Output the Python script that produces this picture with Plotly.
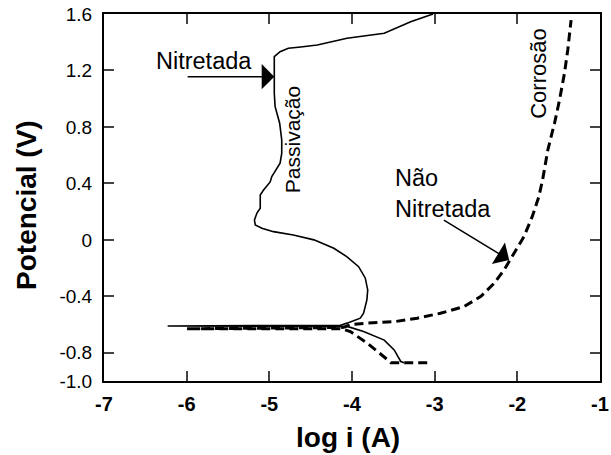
import plotly.graph_objects as go

# Nitretada (solid): cathodic branch -> corrosion spike -> anodic branch
nit_x = [-3.37, -3.41, -3.49, -3.61, -3.86, -4.05, -6.23, -4.14, -4.06, -3.90, -3.86, -3.82,
         -3.81, -3.84, -3.92, -4.06, -4.22, -4.46, -4.71, -4.95, -5.09, -5.17, -5.18, -5.15,
         -5.11, -5.11, -5.07, -4.99, -4.97, -4.87, -4.85, -4.85, -4.875, -4.93, -4.94, -4.94,
         -4.94, -4.87, -4.77, -4.62, -4.42, -4.06, -3.61, -3.29, -3.02]
nit_y = [-0.87, -0.862, -0.78, -0.71, -0.65, -0.615, -0.61, -0.605, -0.59, -0.555, -0.52, -0.425,
         -0.355, -0.27, -0.19, -0.12, -0.06, 0.0, 0.035, 0.058, 0.082, 0.106, 0.14, 0.19,
         0.224, 0.318, 0.353, 0.41, 0.448, 0.543, 0.613, 0.708, 0.826, 0.944, 1.038, 1.227,
         1.298, 1.333, 1.357, 1.366, 1.38, 1.428, 1.463, 1.545, 1.60]

# Nao Nitretada (dashed)
nn_x = [-3.09, -3.53, -3.61, -3.82, -4.02, -4.12, -6.00, -4.10, -4.02, -3.82, -3.49, -3.21,
        -2.93, -2.645, -2.44, -2.28, -2.16, -2.04, -1.92, -1.82, -1.74, -1.695, -1.63, -1.55,
        -1.49, -1.43, -1.39, -1.35]
nn_y = [-0.87, -0.87, -0.83, -0.73, -0.65, -0.63, -0.63, -0.62, -0.60, -0.59, -0.58, -0.555,
        -0.52, -0.473, -0.40, -0.307, -0.213, -0.095, 0.023, 0.164, 0.306, 0.424, 0.64, 0.826,
        0.99, 1.18, 1.345, 1.557]

y_ticks = [-1.0, -0.8, -0.4, 0, 0.4, 0.8, 1.2, 1.6]
y_ticktext = ["-1.0", "-0.8", "-0.4", "0", "0.4", "0.8", "1.2", "1.6"]
x_ticks = [-7, -6, -5, -4, -3, -2, -1]
x_ticktext = ["-7", "-6", "-5", "-4", "-3", "-2", "-1"]

FONT = "Liberation Sans, Arial, Helvetica, sans-serif"

fig = go.Figure()
fig.add_trace(go.Scatter(x=nit_x, y=nit_y, mode="lines",
                         line=dict(color="black", width=1.6), showlegend=False))
fig.add_trace(go.Scatter(x=nn_x, y=nn_y, mode="lines",
                         line=dict(color="black", width=3, dash="9px,5px"), showlegend=False))

ann = []
# text labels
ann.append(dict(x=-5.79, y=1.265, text="Nitretada", showarrow=False,
                font=dict(family=FONT, size=23.5, color="black")))
ann.append(dict(x=-3.51, y=0.33, text="Não<br>Nitretada", showarrow=False, xanchor="left",
                align="left", font=dict(family=FONT, size=23.5, color="black")))
ann.append(dict(x=-4.71, y=0.708, text="Passivação", showarrow=False, textangle=-90,
                font=dict(family=FONT, size=21, color="black")))
ann.append(dict(x=-1.74, y=1.175, text="Corrosão", showarrow=False, textangle=-90,
                font=dict(family=FONT, size=22, color="black")))
# arrows
ann.append(dict(x=-4.94, y=1.156, ax=-6.006, ay=1.156, axref="x", ayref="y", text="",
                showarrow=True, arrowhead=1, arrowsize=2.8, arrowwidth=1.5, arrowcolor="black"))
ann.append(dict(x=-2.099, y=-0.142, ax=-2.907, ay=0.146, axref="x", ayref="y", text="",
                showarrow=True, arrowhead=1, arrowsize=2.8, arrowwidth=1.5, arrowcolor="black"))
# axis titles
ann.append(dict(xref="paper", yref="paper", x=-0.155, y=0.48, text="Potencial (V)",
                showarrow=False, textangle=-90, xanchor="center", yanchor="middle",
                font=dict(family=FONT, size=28, color="black", weight="bold")))
ann.append(dict(xref="paper", yref="paper", x=0.492, y=-0.153, text="log i (A)",
                showarrow=False, xanchor="center", yanchor="middle",
                font=dict(family=FONT, size=28, color="black", weight="bold")))

fig.update_layout(
    width=611, height=455,
    margin=dict(l=104, r=11, t=14, b=74, autoexpand=False),
    paper_bgcolor="white", plot_bgcolor="white",
    annotations=ann,
    xaxis=dict(range=[-7, -1], tickvals=x_ticks, ticktext=x_ticktext, ticks="inside",
               ticklen=10, tickwidth=2,
               showline=True, linecolor="black", linewidth=2, mirror="ticks",
               showgrid=False, zeroline=False, automargin=False, ticklabelstandoff=4,
               ticklabeloverflow="allow",
               tickfont=dict(family=FONT, size=20, color="black", weight="bold")),
    yaxis=dict(range=[-1.0, 1.6], tickvals=y_ticks, ticktext=y_ticktext, ticks="inside",
               ticklen=10, tickwidth=2, showline=True, linecolor="black", linewidth=2,
               mirror="ticks", showgrid=False, zeroline=False, automargin=False,
               ticklabelstandoff=6, ticklabeloverflow="allow",
               tickfont=dict(family=FONT, size=19, color="black")),
)

fig.write_html("out.html", config={"displayModeBar": False},
               post_script="document.body.style.margin='0';document.body.style.overflow='hidden';")
